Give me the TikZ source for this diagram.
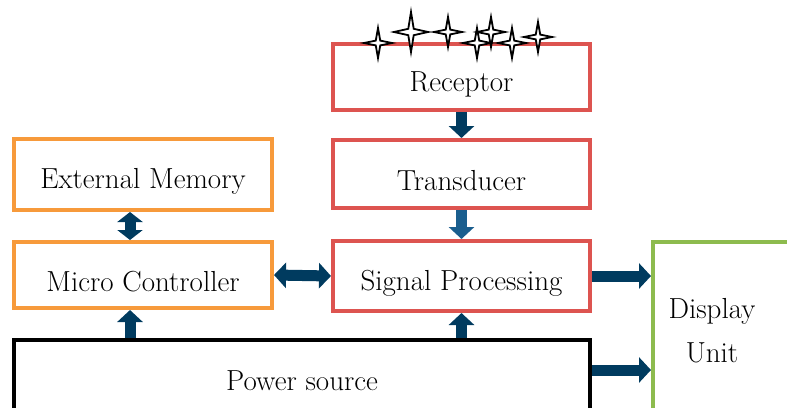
\documentclass[tikz,border=0pt]{standalone}
\usetikzlibrary{arrows.meta,calc}
\definecolor{cred}{HTML}{DD5450}
\definecolor{corange}{HTML}{F79A3B}
\definecolor{cgreen}{HTML}{8DBB4E}
\definecolor{cnavy}{HTML}{003B5F}
\definecolor{cblue}{HTML}{1A5E8E}
\newcommand{\lowtxt}[1]{\raisebox{-7pt}[\height][\depth]{#1}}
\tikzset{
  box/.style={draw, line width=4pt, fill=white, inner sep=0pt, font=\fontsize{29}{34}\selectfont},
  redbox/.style={box, draw=cred},
  orbox/.style={box, draw=corange},
  fat/.style={line width=11pt, draw=cnavy, -{Triangle[width=25pt,length=12pt,fill=cnavy]}},
  fatboth/.style={line width=11pt, draw=cnavy, {Triangle[width=25pt,length=12pt,fill=cnavy]}-{Triangle[width=25pt,length=12pt,fill=cnavy]}},
  txt/.style={font=\fontsize{29}{44}\selectfont, align=center, inner sep=0pt},
  starc/.style={draw=black, fill=white, line width=1.8pt, line join=miter}
}
\newcommand{\fourstar}[4]{%
  \path[starc] (#1,#2) ++(0,-#4) -- ++(0.16*#3,0.84*#4) -- ++(0.84*#3,0.16*#4)
    -- ++(-0.84*#3,0.16*#4) -- ++(-0.16*#3,0.84*#4) -- ++(-0.16*#3,-0.84*#4)
    -- ++(-0.84*#3,-0.16*#4) -- ++(0.84*#3,-0.16*#4) -- cycle;}
\begin{document}
\begin{tikzpicture}[x=1pt,y=-1pt]
\useasboundingbox (0,0) rectangle (787,407);
\clip (0,0) rectangle (787,407);
% boxes
\node[redbox, minimum width=257pt, minimum height=66pt] (rec) at (461.5,77) {\lowtxt{Receptor}};
\node[redbox, minimum width=257pt, minimum height=68pt] (tra) at (461.5,174) {\lowtxt{Transducer}};
\node[redbox, minimum width=257pt, minimum height=70pt] (sp) at (461.5,276) {\lowtxt{Signal Processing}};
\node[orbox, minimum width=258pt, minimum height=71pt] (em) at (143,174.5) {\lowtxt{External Memory}};
\node[orbox, minimum width=258pt, minimum height=66pt] (mc) at (143,275) {\lowtxt{Micro Controller}};
\node[box, draw=black, minimum width=576pt, minimum height=82pt] (ps) at (302,381) {Power source};
\node[box, draw=cgreen, minimum width=160pt, minimum height=190pt, anchor=north west] (du) at (651,240) {};
\node[txt] (dut) at (712,331) {Display\\Unit};
% stars
\fourstar{378}{43}{14}{15}
\fourstar{411}{32}{17}{20}
\fourstar{448}{32}{14}{15}
\fourstar{477}{43}{14}{15}
\fourstar{491}{32}{14}{15}
\fourstar{512}{43}{14}{15}
\fourstar{538}{37}{14}{15}
% connectors
\coordinate (ax) at (130,0);
\draw[fat] (rec.south) -- (tra.north);
\draw[fat, draw=cblue, -{Triangle[width=25pt,length=12pt,fill=cblue]}] (tra.south) -- (sp.north);
\draw[fatboth] (mc.east) -- (sp.west);
\draw[line width=11pt, draw=cnavy, {Triangle[width=25pt,length=10pt,fill=cnavy]}-{Triangle[width=25pt,length=10pt,fill=cnavy]}] (em.south -| ax) -- (mc.north -| ax);
\draw[fat] (ps.north -| ax) -- (mc.south -| ax);
\draw[fat] (ps.north -| sp.south) -- (sp.south);
\draw[fat] (sp.east) -- (sp.east -| du.west);
\coordinate (pd) at ($(ps.north east)+(0,32)$);
\draw[fat] (pd) -- (pd -| du.west);
\end{tikzpicture}
\end{document}
